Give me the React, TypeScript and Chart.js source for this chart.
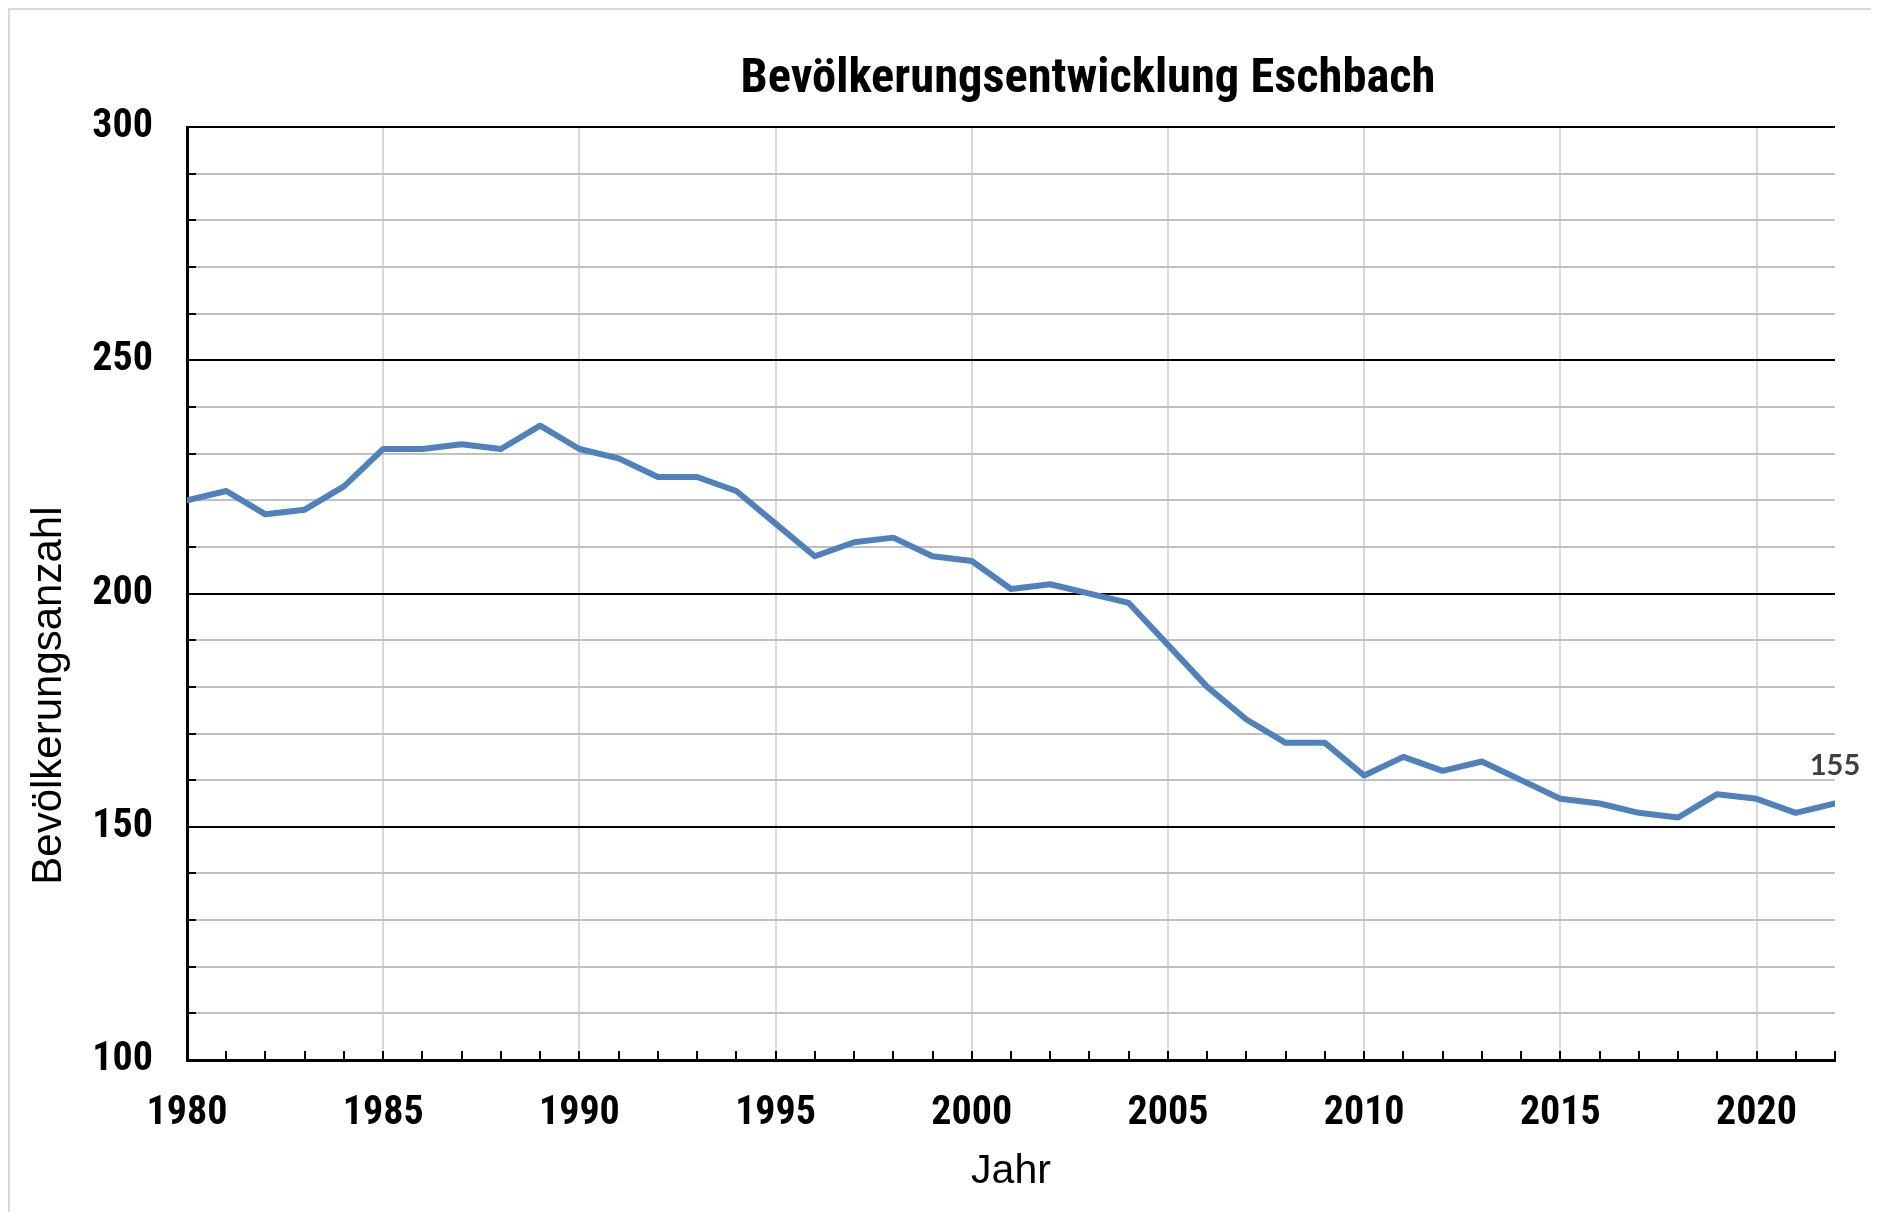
import React, { useEffect, useRef } from 'react';
import { Chart, registerables } from 'chart.js';

Chart.register(...registerables);

// ---- Data ----
const years = [
  1980, 1981, 1982, 1983, 1984, 1985, 1986, 1987, 1988, 1989,
  1990, 1991, 1992, 1993, 1994, 1995, 1996, 1997, 1998, 1999,
  2000, 2001, 2002, 2003, 2004, 2005, 2006, 2007, 2008, 2009,
  2010, 2011, 2012, 2013, 2014, 2015, 2016, 2017, 2018, 2019,
  2020, 2021, 2022,
];
const population = [
  220, 222, 217, 218, 223, 231, 231, 232, 231, 236,
  231, 229, 225, 225, 222, 215, 208, 211, 212, 208,
  207, 201, 202, 200, 198, 189, 180, 173, 168, 168,
  161, 165, 162, 164, 160, 156, 155, 153, 152, 157,
  156, 153, 155,
];
const yRange = [100, 300];
const yStep = 10;
const yLabelEvery = 50;
const xRange = [1980, 2022];
const xLabelEvery = 5;

const chartTitle = 'Bevölkerungsentwicklung Eschbach';
const xTitle = 'Jahr';
const yTitle = 'Bevölkerungsanzahl';

const CONDENSED = 'Roboto, sans-serif';
const SANS = "'Liberation Sans', Arial, sans-serif";

const innerTicks = {
  id: 'innerTicks',
  beforeDatasetsDraw(chart: any) {
    const { ctx, chartArea, scales } = chart;
    const xs = scales.x;
    const ys = scales.y;
    ctx.save();
    ctx.strokeStyle = '#000';
    ctx.lineWidth = 2;
    ctx.beginPath();
    ys.ticks.forEach((t: any) => {
      const py = Math.round(ys.getPixelForValue(t.value));
      ctx.moveTo(chartArea.left, py);
      ctx.lineTo(chartArea.left + 9, py);
    });
    xs.ticks.forEach((t: any) => {
      const px = Math.round(xs.getPixelForValue(t.value));
      ctx.moveTo(px, chartArea.bottom);
      ctx.lineTo(px, chartArea.bottom - 9);
    });
    ctx.stroke();
    ctx.restore();
  },
};

const lastLabel = {
  id: 'lastLabel',
  afterDatasetsDraw(chart: any) {
    const meta = chart.getDatasetMeta(0);
    const idx = meta.data.length - 1;
    const pt = meta.data[idx];
    if (!pt) return;
    const { ctx } = chart;
    ctx.save();
    ctx.font = "bold 29px Lato, 'Open Sans', sans-serif";
    ctx.fillStyle = '#404040';
    ctx.textAlign = 'center';
    ctx.textBaseline = 'middle';
    ctx.fillText(String(population[idx]), pt.x, pt.y - 38);
    ctx.restore();
  },
};

const yAxisTitle = {
  id: 'yAxisTitle',
  afterDraw(chart: any) {
    const { ctx, chartArea } = chart;
    ctx.save();
    ctx.translate(39, (chartArea.top + chartArea.bottom) / 2 + 102);
    ctx.rotate(-Math.PI / 2);
    ctx.font = `42px ${SANS}`;
    ctx.fillStyle = '#000';
    ctx.textAlign = 'center';
    ctx.textBaseline = 'middle';
    ctx.fillText(yTitle, 0, 0);
    ctx.restore();
  },
};

const titleShift = {
  id: 'titleShift',
  afterLayout(chart: any) {
    const tb = chart.titleBlock;
    if (tb) {
      tb.left += 77;
      tb.right += 77;
    }
  },
};

export default function App() {
  const ref = useRef<HTMLCanvasElement>(null);

  useEffect(() => {
    if (!ref.current) return;
    const chart = new Chart(ref.current, {
      type: 'line',
      data: {
        datasets: [
          {
            label: yTitle,
            data: years.map((yr, i) => ({ x: yr, y: population[i] })),
            borderColor: '#4f81bd',
            backgroundColor: '#4f81bd',
            borderWidth: 6,
            pointRadius: 0,
            tension: 0,
            borderJoinStyle: 'round',
            borderCapStyle: 'round',
          },
        ],
      },
      options: {
        responsive: false,
        animation: false,
        layout: { padding: { left: 14, right: 36, top: 0, bottom: 0 } },
        plugins: {
          legend: { display: false },
          tooltip: { enabled: false },
          title: {
            display: true,
            text: chartTitle,
            fullSize: false,
            color: '#000',
            font: { family: CONDENSED, size: 48.5, weight: 'bold condensed', lineHeight: 1.2 },
            padding: { top: 41, bottom: 18 },
          },
        },
        scales: {
          x: {
            type: 'linear',
            min: xRange[0],
            max: xRange[1],
            afterFit: (s: any) => { s.height = 152; },
            ticks: {
              stepSize: 1,
              autoSkip: false,
              maxRotation: 0,
              padding: 30,
              color: '#000',
              font: { family: CONDENSED, size: 40, weight: 'bold condensed', lineHeight: 1.2 },
              callback: (v: any) => (Number(v) % xLabelEvery === 0 ? String(v) : ''),
            },
            grid: {
              drawTicks: false,
              lineWidth: 2,
              color: (c: any) => (c.tick && c.tick.value % xLabelEvery === 0 ? '#d9d9d9' : 'rgba(0,0,0,0)'),
            },
            border: { display: true, color: '#000', width: 3 },
            title: {
              display: true,
              text: xTitle,
              color: '#000',
              font: { family: SANS, size: 41, lineHeight: 1.2 },
              padding: { top: 0, bottom: 16 },
            },
          },
          y: {
            type: 'linear',
            min: yRange[0],
            max: yRange[1],
            afterFit: (s: any) => { s.width = 163; },
            ticks: {
              stepSize: yStep,
              autoSkip: false,
              padding: 34,
              color: '#000',
              font: { family: CONDENSED, size: 40, weight: 'bold condensed', lineHeight: 1.2 },
              callback: (v: any) => (Number(v) % yLabelEvery === 0 ? String(v) : ''),
            },
            grid: {
              drawTicks: false,
              lineWidth: 2,
              color: (c: any) => (c.tick && c.tick.value % yLabelEvery === 0 ? '#000' : '#c0c0c0'),
            },
            border: { display: true, color: '#000', width: 3 },
            title: { display: false, text: yTitle },
          },
        },
      },
      plugins: [innerTicks, lastLabel, yAxisTitle, titleShift],
    } as any);
    return () => chart.destroy();
  }, []);

  return (
    <div
      style={{
        width: 1863,
        height: 1204,
        boxSizing: 'border-box',
        borderLeft: '2px solid #d9d9d9',
        borderTop: '2px solid #d9d9d9',
        background: '#fff',
      }}
    >
      <canvas ref={ref} width={1861} height={1202} style={{ display: 'block', width: 1861, height: 1202 }} />
    </div>
  );
}
